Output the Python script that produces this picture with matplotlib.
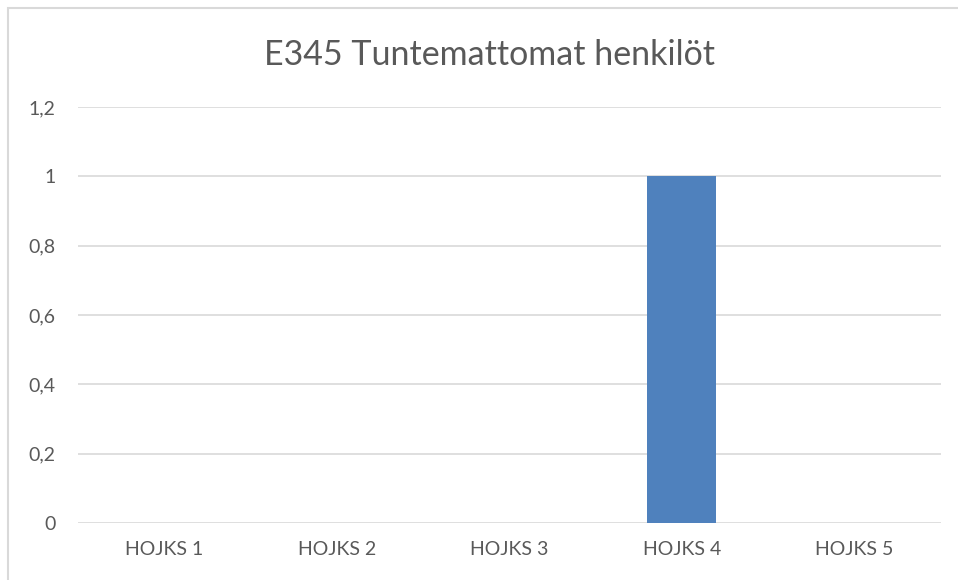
import matplotlib.pyplot as plt
from matplotlib.patches import Rectangle

categories = ["HOJKS 1", "HOJKS 2", "HOJKS 3", "HOJKS 4", "HOJKS 5"]
values = [0, 0, 0, 1, 0]
yticks = [0, 0.2, 0.4, 0.6, 0.8, 1, 1.2]
ytick_labels = ["0", "0,2", "0,4", "0,6", "0,8", "1", "1,2"]
title = "E345 Tuntemattomat henkilöt"

plt.rcParams["font.family"] = ["Lato", "DejaVu Sans"]

fig = plt.figure(figsize=(9.58, 5.80), dpi=100)
ax = fig.add_axes([0.0814, 0.0983, 0.9006, 0.7172])

x = range(len(categories))
ax.bar(x, values, width=0.4, color="#4f81bd", zorder=3)

ax.set_xlim(-0.5, len(categories) - 0.5)
ax.set_ylim(0, 1.2)
ax.set_xticks(list(x))
ax.set_xticklabels(categories, fontsize=14, color="#595959")
ax.set_yticks(yticks)
ax.set_yticklabels(ytick_labels, fontsize=14, color="#595959")
ax.tick_params(length=0)
ax.tick_params(axis="x", pad=13)
ax.tick_params(axis="y", pad=16)
ax.grid(axis="y", color="#d9d9d9", linewidth=1.2, zorder=0)
for s in ax.spines.values():
    s.set_visible(False)

fig.text(489 / 958, 1 - 55 / 580, title, ha="center", va="center",
         fontsize=24.5, color="#595959")

# chart border (partly cut off on the right and bottom)
fig.patches.append(Rectangle((8 / 958, -0.1), 1.2, 1.1 - 8 / 580,
                             transform=fig.transFigure, fill=False,
                             edgecolor="#d9d9d9", linewidth=1.5))

fig.savefig("out.png", dpi=100)
